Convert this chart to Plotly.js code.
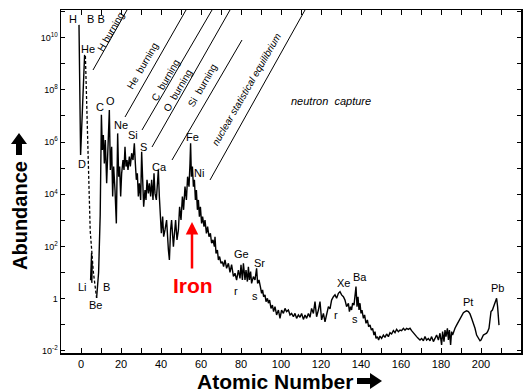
<!DOCTYPE html>
<html><head><meta charset="utf-8">
<script src="https://cdn.plot.ly/plotly-3.0.1.min.js"></script>
<style>html,body{margin:0;padding:0;background:#fff}#chart{width:530px;height:391px}</style>
</head><body><div id="chart"></div>
<script>
// ---- data (x = number on horizontal axis, y = log10 abundance) ----
const hHeMass  = [-1.0, -0.2, 1.8];
const hHeLogAb = [10.49, 5.5, 9.34];

const dashedMass  = [2.2, 3.2, 4.6, 6.2, 7.8];
const dashedLogAb = [9.3, 6.0, 2.6, 1.0, 0.02];

const liMass  = [4.8, 5.3, 5.0, 5.6, 5.4];
const liLogAb = [0.7, 1.75, 1.0, 1.45, 0.6];

const mainMass = [7.8,8.8,9.6,10.2,10.67,11.17,11.67,12.17,12.83,13.33,14.17,14.67,15.33,15.83,16.33,17.0,17.67,18.33,18.83,19.33,19.83,20.33,21.0,21.5,22.0,22.5,23.0,23.5,24.17,24.67,25.33,26.0,26.67,27.17,27.67,28.17,28.67,29.17,29.83,30.33,30.83,31.33,32.0,32.5,33.0,33.67,34.17,34.83,35.33,36.0,36.5,37.0,37.67,38.17,38.67,39.17,39.67,40.17,40.83,41.33,
42.0,42.8,43.7,44.2,44.8,45.3,46.2,46.7,47.3,48.0,48.7,49.3,50.0,50.7,51.3,52.0,52.7,53.3,54.0,54.5,54.8,55.2,55.7,56.2,56.7,57.2,57.7,58.2,58.7,59.2,59.7,60.3,60.8,61.5,62.0,62.7,63.3,64.0,64.7,65.3,66.0,66.7,67.0,67.5,68.2,68.7,69.3,70.0,70.7,71.3,72.0,72.8,73.7,74.5,75.3,76.2,
77.0,77.8,78.7,79.5,80.0,80.7,81.2,82.0,82.5,83.2,83.7,84.2,84.8,85.3,86.2,87.0,87.8,88.3,89.0,89.7,90.3,90.8,91.3,92.0,92.5,93.2,93.7,94.3,95.0,95.7,96.3,97.0,97.8,98.7,99.5,100.3,101.2,102.0,102.8,103.7,104.5,105.3,106.2,107.0,107.8,108.7,109.5,110.3,111.2,112.0,112.8,113.7,114.5,115.3,116.2,117.0,117.8,118.7,119.5,120.3,121.2,122.0,122.8,123.7,
124.5,125.3,126.2,127.0,127.8,128.7,129.5,130.3,131.2,132.0,132.8,133.7,134.2,134.8,135.3,135.8,136.5,137.0,137.5,138.0,138.5,139.0,139.5,140.0,140.5,141.2,141.8,142.5,143.2,143.8,144.5,145.2,145.8,146.5,147.0,147.5,148.2,148.8,149.5,150.3,151.2,152.0,152.8,153.7,154.5,155.3,156.2,157.0,157.8,158.7,159.5,160.3,161.2,162.0,162.8,163.7,164.5,165.3,166.2,167.0,167.8,168.7,
169.5,170.3,171.2,172.0,172.8,173.7,174.5,175.3,176.2,177.0,177.8,178.7,179.5,180.3,180.8,181.5,182.0,182.5,183.2,183.7,184.2,184.8,185.3,185.8,186.5,187.0,187.8,188.7,189.5,190.3,191.2,192.0,192.8,193.7,194.5,195.3,196.2,197.0,197.8,198.7,199.5,200.0,200.7,201.2,202.0,202.8,203.3,204.0,204.5,205.0,205.7,206.2,207.0,207.8,208.3,208.7,209.0];

const mainLogAb = [0.02,1.0,3.2,7.04,5.70,6.27,5.18,6.08,4.42,5.44,7.23,4.93,5.82,3.91,5.06,4.16,2.88,6.33,4.67,5.06,3.91,4.80,5.31,4.93,5.82,5.06,5.31,4.93,5.44,5.06,5.57,5.31,5.95,5.18,4.55,4.80,3.91,4.42,3.78,5.63,4.29,3.52,4.16,3.78,4.55,4.03,4.42,3.91,4.55,3.78,4.80,4.03,3.78,4.42,4.93,3.91,2.88,2.50,3.14,2.37,
2.63,3.01,1.86,1.48,2.63,3.01,1.99,2.37,3.01,2.25,2.63,3.52,3.01,3.91,3.40,4.29,3.78,4.67,4.29,5.18,5.95,4.67,5.06,4.29,4.55,3.78,4.16,3.40,3.78,3.14,3.52,2.88,3.14,2.76,3.01,2.50,2.76,2.37,2.50,2.12,2.25,1.99,2.37,1.73,1.86,1.48,1.61,1.35,1.41,1.22,1.48,1.16,1.35,1.00,1.30,0.85,
0.97,0.71,1.09,0.77,1.29,0.71,1.35,0.71,1.09,0.65,1.22,0.71,1.03,0.58,0.84,0.71,1.16,0.58,0.71,0.45,0.20,0.33,0.07,0.14,-0.12,0.01,-0.18,-0.06,-0.38,-0.25,-0.50,-0.31,-0.63,-0.44,-0.76,-0.44,-0.57,-0.38,-0.50,-0.44,-0.63,-0.57,-0.70,-0.57,-0.76,-0.63,-0.72,-0.57,-0.80,-0.63,-0.76,-0.57,-0.72,-0.38,-0.57,-0.12,-0.70,-0.44,-0.12,-0.82,-0.57,-0.89,-0.57,-0.31,
-0.40,-0.06,0.07,0.14,0.01,0.20,0.26,0.14,0.07,-0.06,-0.31,-0.18,-0.50,-0.31,-0.44,-0.18,-0.25,0.01,0.46,-0.31,0.07,-0.44,-0.18,-0.57,-0.44,-0.76,-0.63,-0.95,-0.82,-1.08,-1.01,-1.21,-1.14,-1.40,-1.27,-1.53,-1.46,-1.59,-1.44,-1.53,-1.40,-1.49,-1.36,-1.46,-1.31,-1.36,-1.23,-1.31,-1.18,-1.27,-1.21,-1.23,-1.14,-1.21,-1.14,-1.18,-1.14,-1.23,-1.33,-1.40,-1.46,-1.53,
-1.59,-1.53,-1.62,-1.46,-1.59,-1.53,-1.62,-1.46,-1.65,-1.53,-1.40,-1.59,-1.33,-1.78,-1.27,-1.65,-1.21,-1.46,-1.14,-1.59,-1.21,-1.78,-1.27,-1.40,-1.21,-1.14,-1.02,-0.89,-0.76,-0.63,-0.54,-0.50,-0.47,-0.50,-0.59,-0.76,-0.95,-1.14,-1.40,-1.53,-1.62,-1.59,-1.46,-1.40,-1.36,-1.33,-1.27,-1.14,-0.82,-0.50,-0.44,-0.31,-0.18,0.01,-0.31,-0.63,-1.02];

// element labels
const labelText  = ['H','B B','He','D','Li','B','Be','C','O','Ne','Si','S','Ca','Fe','Ni','Ge','r','Sr','s','Xe','r','Ba','s','Pt','Pb'];
const labelMass  = [-3.8,7.5,3.5,0.25,0.5,12.75,7.0,9.5,14.75,19.75,25.75,31.25,39.25,55.5,58.75,80.0,77.25,89.0,87.0,131.25,127.25,139.5,137.0,193.25,208.25];
const labelLogAb = [10.73,10.73,9.57,5.16,0.44,0.44,-0.25,7.33,7.59,6.65,6.27,5.81,5.04,6.19,4.81,1.71,0.27,1.38,0.10,0.61,-0.63,0.81,-0.78,-0.13,0.40];

// ticks
const xTickVals = [0,10,20,30,40,50,60,70,80,90,100,110,120,130,140,150,160,170,180,190,200,210,220];
const xTickText = ['0','','20','','40','','60','','80','','100','','120','','140','','160','','180','','200','','220'];
const yTickExp  = [-2,-1,0,1,2,3,4,5,6,7,8,9,10,11];
const yTickText = ['10<sup>-2</sup>','','1','','10<sup>2</sup>','','10<sup>4</sup>','','10<sup>6</sup>','','10<sup>8</sup>','','10<sup>10</sup>',''];

// ---- build ----
const pow = a => a.map(v => Math.pow(10, v));
const lineStyle = {color:'#000', width:1.4};
const traces = [
  {x:hHeMass, y:pow(hHeLogAb), mode:'lines', line:lineStyle, hoverinfo:'skip'},
  {x:dashedMass, y:pow(dashedLogAb), mode:'lines', line:{color:'#000', width:1.3, dash:'3px,2px'}, hoverinfo:'skip'},
  {x:liMass, y:pow(liLogAb), mode:'lines', line:lineStyle, hoverinfo:'skip'},
  {x:mainMass, y:pow(mainLogAb), mode:'lines', line:lineStyle, hoverinfo:'skip'}
];

const L = 61, T = 10, W = 460, H = 343;
const px = x => (x - L) / W;
const py = y => (T + H - y) / H;
const FAM = 'Liberation Sans, Arial, sans-serif';

const ann = [];
const lblFont = {family:FAM, size:11, color:'#000'};
labelText.forEach((t,i) => ann.push({x:labelMass[i], y:labelLogAb[i], xref:'x', yref:'y', text:t, showarrow:false, font:lblFont, xanchor:'center', yanchor:'middle'}));

// process labels along diagonal lines
const procText = ['H burning','He  burning','C  burning','O  burning','Si  burning','nuclear statistical equilibrium'];
const procX = [110,143,165,178,202,246];
const procY = [32,66,80,91,85,89];
const procFont = {family:FAM, size:10, color:'#000'};
procText.forEach((t,i) => ann.push({x:px(procX[i]), y:py(procY[i]), xref:'paper', yref:'paper', text:(i===5?'<i>'+t+'</i>':t), textangle:-60, showarrow:false, font:procFont, xanchor:'center', yanchor:'middle'}));
ann.push({x:px(331), y:py(101), xref:'paper', yref:'paper', text:'<i>neutron  capture</i>', showarrow:false, font:{family:FAM, size:11, color:'#000'}, xanchor:'center', yanchor:'middle'});

// Iron
ann.push({x:px(192.5), y:py(285.5), xref:'paper', yref:'paper', text:'<b>Iron</b>', showarrow:false, font:{family:FAM, size:21, color:'#f00'}, xanchor:'center', yanchor:'middle'});
ann.push({x:55.5, y:2.93, xref:'x', yref:'y', text:'', showarrow:true, ax:0, ay:48, arrowhead:2, arrowsize:1, arrowwidth:2.5, arrowcolor:'#f00'});

// axis titles
ann.push({x:px(20), y:py(216), xref:'paper', yref:'paper', text:'<b>Abundance</b>', textangle:-90, showarrow:false, font:{family:FAM, size:20, color:'#000'}, xanchor:'center', yanchor:'middle', borderpad:0});
ann.push({x:px(275), y:py(381.5), xref:'paper', yref:'paper', text:'<b>Atomic Number</b>', showarrow:false, font:{family:FAM, size:21, color:'#000'}, xanchor:'center', yanchor:'middle', borderpad:0});

// diagonal lines
const segX0 = [93,125,142,152,172,210], segY0 = [70,117,130,147,160,180];
const segX1 = [127,186,212,230,242,305], segY1 = [10,10,10,10,40,10];
const shapes = segX0.map((v,i) => ({type:'line', xref:'paper', yref:'paper', x0:px(v), y0:py(segY0[i]), x1:px(segX1[i]), y1:py(segY1[i]), line:{color:'#000', width:1}}));

// heavy arrows after the axis titles
const pathFrom = pts => 'M' + pts.map(p => px(p[0]).toFixed(5) + ',' + py(p[1]).toFixed(5)).join(' L') + ' Z';
const upArrow = [[16,155],[22,155],[22,144],[27,144],[19,133],[11,144],[16,144]];
const rightArrow = [[357,378],[370,378],[370,373],[382,381],[370,389],[370,384],[357,384]];
shapes.push({type:'path', xref:'paper', yref:'paper', path:pathFrom(upArrow), fillcolor:'#000', line:{width:0}});
shapes.push({type:'path', xref:'paper', yref:'paper', path:pathFrom(rightArrow), fillcolor:'#000', line:{width:0}});

const axisCommon = {showline:true, linecolor:'#000', linewidth:1.5, mirror:'ticks', ticks:'inside', tickcolor:'#000', tickwidth:1, showgrid:false, zeroline:false};
const layout = {
  width:530, height:391,
  margin:{l:L, r:530-L-W, t:T, b:391-T-H, pad:0},
  paper_bgcolor:'#fff', plot_bgcolor:'#fff', showlegend:false,
  xaxis:Object.assign({}, axisCommon, {range:[-10,220], tickmode:'array', tickvals:xTickVals, ticktext:xTickText, ticklen:5, ticklabelstandoff:0, tickfont:{family:FAM, size:11, color:'#000'}}),
  yaxis:Object.assign({}, axisCommon, {type:'log', range:[-2.088, 11.06], tickmode:'array', tickvals:pow(yTickExp), ticktext:yTickText, ticklen:4, tickfont:{family:FAM, size:9, color:'#000'}}),
  annotations:ann, shapes:shapes
};
Plotly.newPlot('chart', traces, layout, {staticPlot:true, displayModeBar:false});
</script></body></html>
